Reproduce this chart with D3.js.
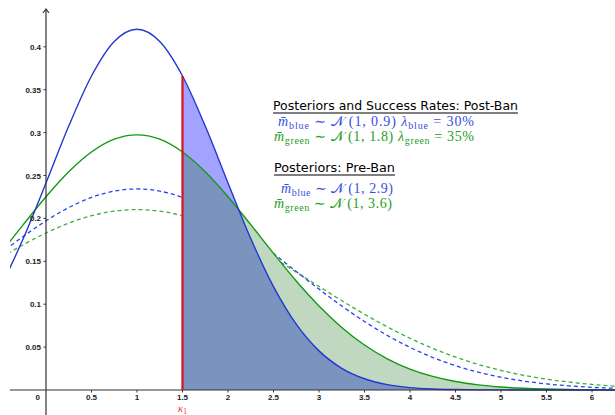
<!DOCTYPE html>
<html>
<head>
<meta charset="utf-8">
<script src="https://cdn.jsdelivr.net/npm/d3@7"></script>
<style>
  body { margin: 0; background: #fff; }
  svg { display: block; }
  .tick-label { font-family: "Liberation Sans", Arial, sans-serif; font-size: 8px; font-weight: bold; fill: #222; }
  .head { font-family: "DejaVu Sans", sans-serif; font-size: 12px; fill: #000; }
  .math { font-family: "Liberation Serif", "DejaVu Serif", serif; font-size: 14px; }
</style>
</head>
<body>
<script>
// grid of x values the densities were read at
var xs = [-0.75, -0.5, -0.25, 0, 0.25, 0.5, 0.75, 1, 1.25, 1.5, 1.75, 2, 2.25, 2.5, 2.75, 3,
          3.25, 3.5, 3.75, 4, 4.25, 4.5, 4.75, 5, 5.25, 5.5, 5.75, 6, 6.25, 6.5];

// posterior post-ban, blue (solid)
var blueSolid = [0.0767, 0.1205, 0.1765, 0.2413, 0.3076, 0.3660, 0.4062, 0.4205, 0.4062, 0.3660,
                 0.3076, 0.2413, 0.1765, 0.1205, 0.0767, 0.0456, 0.0253, 0.0131, 0.0063, 0.0028,
                 0.0012, 0.0005, 0.0002, 0.0001, 0, 0, 0, 0, 0, 0];
// posterior post-ban, green (solid)
var greenSolid = [0.1270, 0.1592, 0.1927, 0.2253, 0.2544, 0.2774, 0.2923, 0.2974, 0.2923, 0.2774,
                  0.2544, 0.2253, 0.1927, 0.1592, 0.1270, 0.0979, 0.0729, 0.0524, 0.0364, 0.0244,
                  0.0158, 0.0099, 0.0060, 0.0035, 0.0020, 0.0011, 0.0006, 0.0003, 0.0001, 0.0001];
// posterior pre-ban, blue (dashed)
var blueDashed = [0.1382, 0.1590, 0.1790, 0.1972, 0.2126, 0.2244, 0.2318, 0.2343, 0.2318, 0.2244,
                  0.2126, 0.1972, 0.1790, 0.1590, 0.1382, 0.1176, 0.0979, 0.0798, 0.0636, 0.0497,
                  0.0379, 0.0283, 0.0207, 0.0149, 0.0104, 0.0071, 0.0048, 0.0031, 0.0020, 0.0013];
// posterior pre-ban, green (dashed)
var greenDashed = [0.1374, 0.1539, 0.1693, 0.1830, 0.1945, 0.2031, 0.2085, 0.2103, 0.2085, 0.2031,
                   0.1945, 0.1830, 0.1693, 0.1539, 0.1374, 0.1207, 0.1041, 0.0883, 0.0736, 0.0603,
                   0.0485, 0.0384, 0.0298, 0.0228, 0.0171, 0.0126, 0.0092, 0.0065, 0.0046, 0.0032];

var kappa = 1.5;
var xTicks = [0.5, 1, 1.5, 2, 2.5, 3, 3.5, 4, 4.5, 5, 5.5, 6];
var yTicks = [0.05, 0.1, 0.15, 0.2, 0.25, 0.3, 0.35, 0.4];

var width = 615, height = 415;
var left = 10;

var svg = d3.select("body").append("svg")
            .attr("width", width)
            .attr("height", height);

svg.append("clipPath").attr("id", "plot")
   .append("rect").attr("x", left).attr("y", 0)
   .attr("width", width - left).attr("height", height);

var x = d3.scaleLinear().domain([0, 6]).range([46, 592]);
var y = d3.scaleLinear().domain([0, 0.4]).range([390, 46.8]);

function pts(vals){
  return xs.map(function(v, i){ return [v, vals[i]]; });
}

var line = d3.line()
             .x(function(d){ return x(d[0]); })
             .y(function(d){ return y(d[1]); })
             .curve(d3.curveMonotoneX);

var area = d3.area()
             .x(function(d){ return x(d[0]); })
             .y0(y(0))
             .y1(function(d){ return y(d[1]); })
             .curve(d3.curveMonotoneX);

var g = svg.append("g").attr("clip-path", "url(#plot)");

// dashed pre-ban curves sit underneath the shading
g.append("path").attr("d", line(pts(greenDashed)))
 .attr("fill", "none").attr("stroke", "#3fae3f").attr("stroke-width", 1.3)
 .attr("stroke-dasharray", "4,3");
g.append("path").attr("d", line(pts(blueDashed)))
 .attr("fill", "none").attr("stroke", "#2b3ff0").attr("stroke-width", 1.3)
 .attr("stroke-dasharray", "4,3");

// shaded tails beyond kappa
var blueTail = pts(blueSolid).filter(function(d){ return d[0] >= kappa; });
var greenTail = pts(greenSolid).filter(function(d){ return d[0] >= kappa; });

g.append("path").attr("d", area(blueTail)).attr("fill", "#fff");
g.append("path").attr("d", area(greenTail)).attr("fill", "#fff");
g.append("path").attr("d", area(blueTail)).attr("fill", "rgb(0,0,255)").attr("fill-opacity", 0.36);
g.append("path").attr("d", area(greenTail)).attr("fill", "rgb(0,100,0)").attr("fill-opacity", 0.25);

// axes
svg.append("line").attr("x1", left).attr("x2", width)
   .attr("y1", y(0)).attr("y2", y(0))
   .attr("stroke", "#333").attr("stroke-width", 1.2);
svg.append("line").attr("x1", x(0)).attr("x2", x(0))
   .attr("y1", 9).attr("y2", height)
   .attr("stroke", "#333").attr("stroke-width", 1.2);
svg.append("path")
   .attr("d", "M" + (x(0) - 3) + ",13 L" + x(0) + ",9 L" + (x(0) + 3) + ",13")
   .attr("fill", "none").attr("stroke", "#333").attr("stroke-width", 1.2);

svg.selectAll(".xtick").data(xTicks).enter().append("line")
   .attr("x1", function(d){ return x(d); }).attr("x2", function(d){ return x(d); })
   .attr("y1", y(0)).attr("y2", y(0) + 2.5)
   .attr("stroke", "#333");
svg.selectAll(".ytick").data(yTicks).enter().append("line")
   .attr("x1", x(0) - 2.5).attr("x2", x(0))
   .attr("y1", function(d){ return y(d); }).attr("y2", function(d){ return y(d); })
   .attr("stroke", "#333");

svg.selectAll(".xlab").data(xTicks).enter().append("text")
   .attr("class", "tick-label")
   .attr("x", function(d){ return x(d); })
   .attr("y", 400)
   .attr("text-anchor", "middle")
   .text(function(d){ return d; });
svg.append("text").attr("class", "tick-label")
   .attr("x", 40).attr("y", 400).attr("text-anchor", "end").text("0");
svg.selectAll(".ylab").data(yTicks).enter().append("text")
   .attr("class", "tick-label")
   .attr("x", 41)
   .attr("y", function(d){ return y(d) + 3; })
   .attr("text-anchor", "end")
   .text(function(d){ return d; });

// solid post-ban curves on top
g.append("path").attr("d", line(pts(greenSolid)))
 .attr("fill", "none").attr("stroke", "#129a12").attr("stroke-width", 1.4);
g.append("path").attr("d", line(pts(blueSolid)))
 .attr("fill", "none").attr("stroke", "#2338d0").attr("stroke-width", 1.4);

// kappa line
var kIdx = xs.indexOf(kappa);
svg.append("line")
   .attr("x1", x(kappa)).attr("x2", x(kappa))
   .attr("y1", y(0)).attr("y2", y(blueSolid[kIdx]))
   .attr("stroke", "#d8121e").attr("stroke-width", 2.2);

var kl = svg.append("text").attr("class", "math")
            .attr("x", x(kappa)).attr("y", 412)
            .attr("text-anchor", "middle")
            .attr("fill", "#e8303a").style("font-size", "10.5px");
kl.append("tspan").attr("font-style", "italic").text("κ");
kl.append("tspan").attr("dy", 1.5).style("font-size", "7.5px").text("1");

// text block
function heading(txt, xp, yp, w){
  svg.append("text").attr("class", "head").attr("x", xp).attr("y", yp)
     .attr("textLength", w).attr("lengthAdjust", "spacingAndGlyphs").text(txt);
  svg.append("line").attr("x1", xp).attr("x2", xp + w)
     .attr("y1", yp + 3).attr("y2", yp + 3)
     .attr("stroke", "#000").attr("stroke-width", 1.2);
}

function mathLine(xp, yp, w, color, name, params, rate){
  var t = svg.append("text").attr("class", "math").attr("x", xp).attr("y", yp).attr("fill", color)
             .attr("textLength", w).attr("lengthAdjust", "spacing");
  t.append("tspan").attr("font-style", "italic").text("m\u0304");
  t.append("tspan").attr("dy", 2.5).style("font-size", "10px").text(name);
  t.append("tspan").attr("dy", -2.5).text(" \u223C ");
  t.append("tspan").text("\uD835\uDCA9\u2009");
  t.append("tspan").text("(1, " + params + ")");
  if (rate !== null) {
    t.append("tspan").text(name === "blue" ? "  " : " ");
    t.append("tspan").attr("font-style", "italic").text("\u03BB");
    t.append("tspan").attr("dy", 2.5).style("font-size", "10px").text(name);
    t.append("tspan").attr("dy", -2.5).text(" = " + rate + "%");
  }
}

heading("Posteriors and Success Rates: Post-Ban", 273, 110, 245);
mathLine(278, 126, 196, "#3a4ee0", "blue", "0.9", 30);
mathLine(274, 141, 200, "#22a022", "green", "1.8", 35);

heading("Posteriors: Pre-Ban", 274, 172, 121);
mathLine(281, 193, 112, "#3a4ee0", "blue", "2.9", null);
mathLine(274, 208, 118, "#22a022", "green", "3.6", null);
</script>
</body>
</html>
